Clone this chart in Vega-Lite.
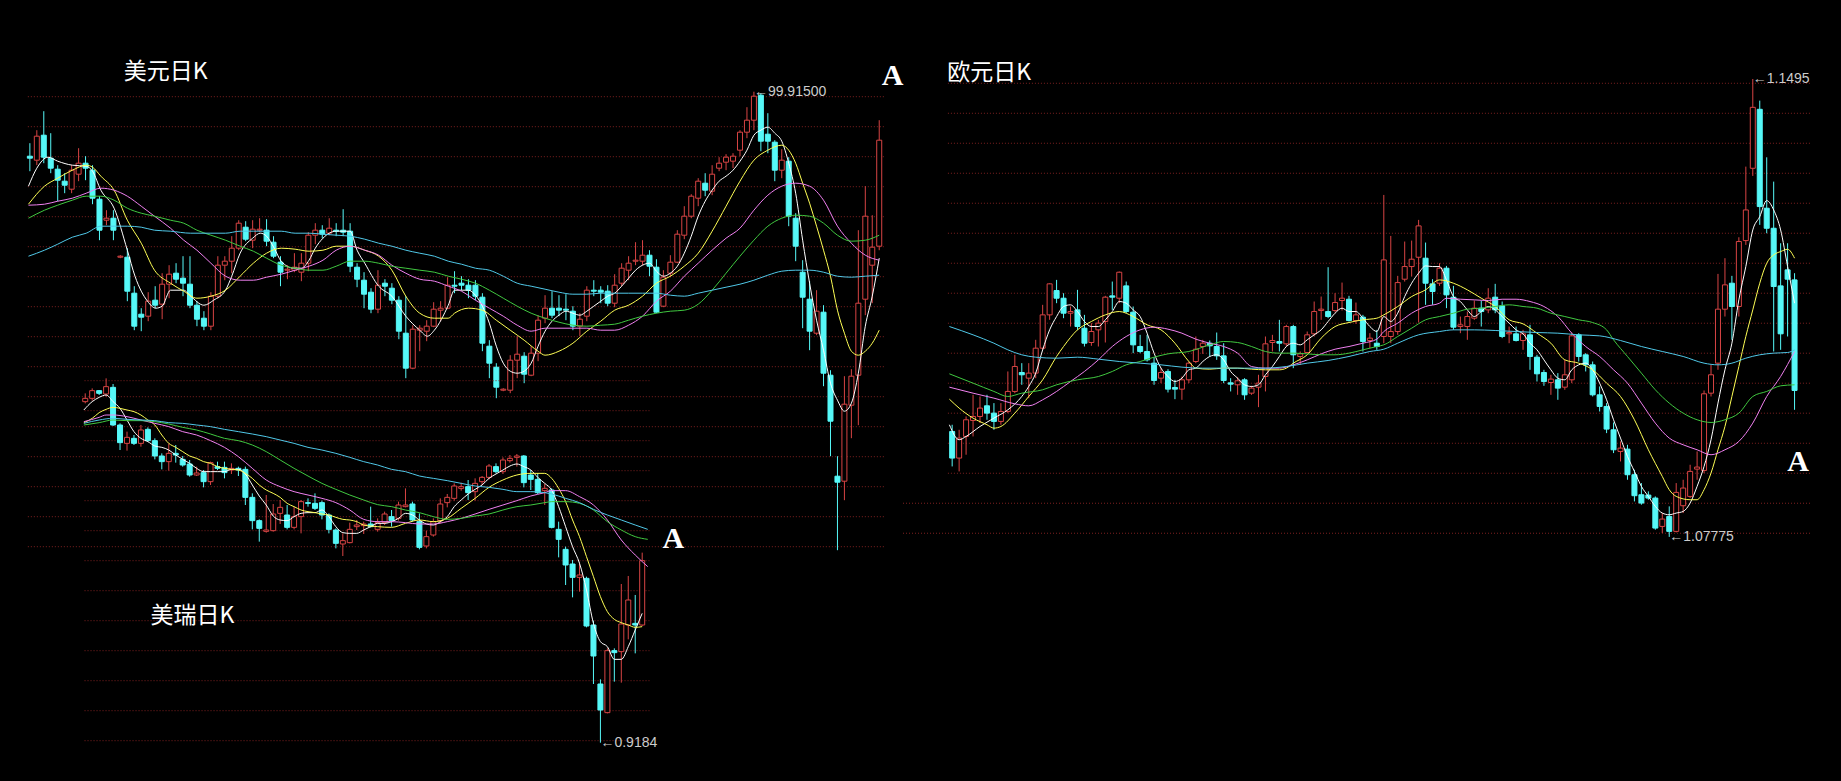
{
"$schema": "https://vega.github.io/schema/vega-lite/v6.json",
"width": 1841, "height": 781,
"autosize": {"type": "none"},
"padding": 0,
"background": "#000000",
"config": {"view": {"stroke": null}, "axis": {"disable": true}, "legend": {"disable": true}},
"datasets": {
"usdGrid": [{"p":99.865,"a":-0.29,"b":122.86},{"p":99.565,"a":-0.29,"b":122.86},{"p":99.265,"a":-0.29,"b":122.86},{"p":98.965,"a":-0.29,"b":122.86},{"p":98.665,"a":-0.29,"b":122.86},{"p":98.365,"a":-0.29,"b":122.86},{"p":98.065,"a":-0.29,"b":122.86},{"p":97.765,"a":-0.29,"b":122.86},{"p":97.465,"a":-0.29,"b":122.86},{"p":97.165,"a":-0.29,"b":122.86},{"p":96.865,"a":-0.29,"b":122.86},{"p":96.565,"a":-0.29,"b":122.86},{"p":96.265,"a":-0.29,"b":122.86},{"p":95.965,"a":-0.29,"b":122.86},{"p":95.665,"a":-0.29,"b":122.86},{"p":95.365,"a":-0.29,"b":122.86}],
"chfGrid": [{"p":0.9908,"a":-0.1,"b":81.04},{"p":0.9848,"a":-0.1,"b":81.04},{"p":0.9788,"a":-0.1,"b":81.04},{"p":0.9728,"a":-0.1,"b":81.04},{"p":0.9668,"a":-0.1,"b":81.04},{"p":0.9608,"a":-0.1,"b":81.04},{"p":0.9548,"a":-0.1,"b":81.04},{"p":0.9488,"a":-0.1,"b":81.04},{"p":0.9428,"a":-0.1,"b":81.04},{"p":0.9368,"a":-0.1,"b":81.04},{"p":0.9308,"a":-0.1,"b":81.04},{"p":0.9248,"a":-0.1,"b":81.04},{"p":0.9188,"a":-0.1,"b":81.04}],
"eurGrid": [{"p":1.14883,"a":-0.61,"b":123.39},{"p":1.14413,"a":-0.61,"b":123.39},{"p":1.13943,"a":-0.61,"b":123.39},{"p":1.13473,"a":-0.61,"b":123.39},{"p":1.13003,"a":-0.61,"b":123.39},{"p":1.12533,"a":-0.61,"b":123.39},{"p":1.12063,"a":-0.61,"b":123.39},{"p":1.11593,"a":-0.61,"b":123.39},{"p":1.11123,"a":-0.61,"b":123.39},{"p":1.10653,"a":-0.61,"b":123.39},{"p":1.10183,"a":-0.61,"b":123.39},{"p":1.09713,"a":-0.61,"b":123.39},{"p":1.09242,"a":-0.61,"b":123.39},{"p":1.08772,"a":-0.61,"b":123.39},{"p":1.08302,"a":-7.06,"b":123.39},{"p":1.07832,"a":-7.06,"b":123.39}],
"usd": [
{"i":0,"o":99.27,"h":99.40,"l":99.12,"c":99.25},{"i":1,"o":99.23,"h":99.53,"l":99.18,"c":99.47},{"i":2,"o":99.48,"h":99.72,"l":99.20,"c":99.26},{"i":3,"o":99.25,"h":99.50,"l":99.10,"c":99.15},{"i":4,"o":99.14,"h":99.18,"l":98.82,"c":99.03},{"i":5,"o":99.02,"h":99.10,"l":98.90,"c":98.98},{"i":6,"o":98.94,"h":99.18,"l":98.90,"c":99.13},{"i":7,"o":99.09,"h":99.35,"l":99.02,"c":99.20},{"i":8,"o":99.20,"h":99.27,"l":99.03,"c":99.15},{"i":9,"o":99.13,"h":99.18,"l":98.79,"c":98.85},
{"i":10,"o":98.84,"h":98.87,"l":98.43,"c":98.53},{"i":11,"o":98.63,"h":98.73,"l":98.58,"c":98.65},{"i":12,"o":98.65,"h":98.73,"l":98.43,"c":98.53},{"i":13,"o":98.26,"h":98.28,"l":98.25,"c":98.27},{"i":14,"o":98.26,"h":98.35,"l":97.82,"c":97.92},{"i":15,"o":97.90,"h":97.97,"l":97.53,"c":97.57},{"i":16,"o":97.69,"h":97.75,"l":97.52,"c":97.66},{"i":17,"o":97.67,"h":97.91,"l":97.62,"c":97.82},{"i":18,"o":97.83,"h":97.97,"l":97.75,"c":97.78},{"i":19,"o":97.79,"h":98.10,"l":97.64,"c":97.99},
{"i":20,"o":97.99,"h":98.18,"l":97.85,"c":98.09},{"i":21,"o":98.10,"h":98.20,"l":98.00,"c":98.04},{"i":22,"o":98.05,"h":98.27,"l":97.87,"c":98.00},{"i":23,"o":97.99,"h":98.27,"l":97.75,"c":97.78},{"i":24,"o":97.78,"h":97.82,"l":97.57,"c":97.64},{"i":25,"o":97.65,"h":97.72,"l":97.53,"c":97.57},{"i":26,"o":97.57,"h":97.91,"l":97.53,"c":97.87},{"i":27,"o":97.87,"h":98.27,"l":97.85,"c":98.18},{"i":28,"o":98.18,"h":98.27,"l":98.03,"c":98.22},{"i":29,"o":98.22,"h":98.47,"l":98.10,"c":98.35},
{"i":30,"o":98.35,"h":98.63,"l":98.33,"c":98.60},{"i":31,"o":98.56,"h":98.62,"l":98.42,"c":98.44},{"i":32,"o":98.43,"h":98.63,"l":98.35,"c":98.54},{"i":33,"o":98.53,"h":98.65,"l":98.51,"c":98.54},{"i":34,"o":98.53,"h":98.64,"l":98.37,"c":98.42},{"i":35,"o":98.41,"h":98.47,"l":98.25,"c":98.27},{"i":36,"o":98.21,"h":98.27,"l":97.97,"c":98.11},{"i":37,"o":98.13,"h":98.18,"l":98.04,"c":98.14},{"i":38,"o":98.13,"h":98.30,"l":98.11,"c":98.16},{"i":39,"o":98.11,"h":98.30,"l":98.02,"c":98.20},
{"i":40,"o":98.20,"h":98.51,"l":98.12,"c":98.48},{"i":41,"o":98.48,"h":98.60,"l":98.39,"c":98.53},{"i":42,"o":98.53,"h":98.58,"l":98.45,"c":98.49},{"i":43,"o":98.50,"h":98.65,"l":98.48,"c":98.55},{"i":44,"o":98.53,"h":98.60,"l":98.47,"c":98.52},{"i":45,"o":98.53,"h":98.74,"l":98.47,"c":98.51},{"i":46,"o":98.52,"h":98.60,"l":98.11,"c":98.17},{"i":47,"o":98.16,"h":98.20,"l":97.96,"c":98.04},{"i":48,"o":98.03,"h":98.11,"l":97.75,"c":97.89},{"i":49,"o":97.91,"h":97.95,"l":97.70,"c":97.74},
{"i":50,"o":97.74,"h":98.13,"l":97.70,"c":97.98},{"i":51,"o":98.00,"h":98.04,"l":97.87,"c":97.97},{"i":52,"o":97.95,"h":98.00,"l":97.79,"c":97.83},{"i":53,"o":97.83,"h":97.87,"l":97.44,"c":97.52},{"i":54,"o":97.50,"h":97.87,"l":97.05,"c":97.15},{"i":55,"o":97.15,"h":97.58,"l":97.14,"c":97.54},{"i":56,"o":97.53,"h":97.58,"l":97.32,"c":97.55},{"i":57,"o":97.52,"h":97.63,"l":97.42,"c":97.57},{"i":58,"o":97.57,"h":97.81,"l":97.56,"c":97.74},{"i":59,"o":97.73,"h":97.82,"l":97.62,"c":97.75},
{"i":60,"o":97.75,"h":98.06,"l":97.74,"c":97.98},{"i":61,"o":97.98,"h":98.12,"l":97.90,"c":97.97},{"i":62,"o":98.00,"h":98.07,"l":97.93,"c":97.98},{"i":63,"o":97.98,"h":98.04,"l":97.85,"c":97.93},{"i":64,"o":97.98,"h":98.03,"l":97.83,"c":97.87},{"i":65,"o":97.86,"h":97.90,"l":97.32,"c":97.40},{"i":66,"o":97.37,"h":97.43,"l":97.05,"c":97.20},{"i":67,"o":97.16,"h":97.20,"l":96.85,"c":96.96},{"i":68,"o":96.93,"h":96.95,"l":96.92,"c":96.94},{"i":69,"o":96.93,"h":97.28,"l":96.90,"c":97.23},
{"i":70,"o":97.23,"h":97.47,"l":97.05,"c":97.29},{"i":71,"o":97.27,"h":97.31,"l":97.00,"c":97.09},{"i":72,"o":97.08,"h":97.37,"l":97.07,"c":97.30},{"i":73,"o":97.30,"h":97.68,"l":97.22,"c":97.63},{"i":74,"o":97.65,"h":97.88,"l":97.60,"c":97.75},{"i":75,"o":97.75,"h":97.92,"l":97.65,"c":97.68},{"i":76,"o":97.75,"h":97.88,"l":97.67,"c":97.73},{"i":77,"o":97.74,"h":97.89,"l":97.63,"c":97.73},{"i":78,"o":97.72,"h":97.77,"l":97.53,"c":97.57},{"i":79,"o":97.57,"h":97.70,"l":97.47,"c":97.64},
{"i":80,"o":97.67,"h":97.97,"l":97.62,"c":97.93},{"i":81,"o":97.93,"h":98.03,"l":97.87,"c":97.92},{"i":82,"o":97.93,"h":97.97,"l":97.80,"c":97.91},{"i":83,"o":97.92,"h":97.98,"l":97.77,"c":97.80},{"i":84,"o":97.80,"h":98.09,"l":97.76,"c":97.98},{"i":85,"o":98.00,"h":98.20,"l":97.97,"c":98.15},{"i":86,"o":98.13,"h":98.27,"l":98.03,"c":98.20},{"i":87,"o":98.22,"h":98.41,"l":98.18,"c":98.23},{"i":88,"o":98.22,"h":98.43,"l":98.18,"c":98.28},{"i":89,"o":98.28,"h":98.33,"l":98.07,"c":98.17},
{"i":90,"o":98.16,"h":98.24,"l":97.70,"c":97.71},{"i":91,"o":97.77,"h":98.13,"l":97.76,"c":98.06},{"i":92,"o":98.10,"h":98.28,"l":98.06,"c":98.21},{"i":93,"o":98.21,"h":98.53,"l":98.20,"c":98.49},{"i":94,"o":98.48,"h":98.77,"l":98.44,"c":98.67},{"i":95,"o":98.67,"h":98.89,"l":98.65,"c":98.87},{"i":96,"o":98.85,"h":99.05,"l":98.77,"c":99.02},{"i":97,"o":99.00,"h":99.10,"l":98.87,"c":98.93},{"i":98,"o":98.92,"h":99.18,"l":98.88,"c":99.09},{"i":99,"o":99.15,"h":99.26,"l":99.12,"c":99.20},
{"i":100,"o":99.21,"h":99.29,"l":99.13,"c":99.26},{"i":101,"o":99.22,"h":99.30,"l":99.15,"c":99.27},{"i":102,"o":99.33,"h":99.53,"l":99.27,"c":99.51},{"i":103,"o":99.51,"h":99.76,"l":99.45,"c":99.63},{"i":104,"o":99.63,"h":99.915,"l":99.53,"c":99.87},{"i":105,"o":99.88,"h":99.90,"l":99.32,"c":99.42},{"i":106,"o":99.49,"h":99.70,"l":99.30,"c":99.42},{"i":107,"o":99.41,"h":99.43,"l":99.02,"c":99.13},{"i":108,"o":99.13,"h":99.34,"l":99.05,"c":99.23},{"i":109,"o":99.22,"h":99.26,"l":98.57,"c":98.67},
{"i":110,"o":98.65,"h":98.70,"l":98.22,"c":98.37},{"i":111,"o":98.11,"h":98.23,"l":97.55,"c":97.86},{"i":112,"o":97.84,"h":98.02,"l":97.33,"c":97.52},{"i":113,"o":97.50,"h":97.93,"l":97.48,"c":97.72},{"i":114,"o":97.71,"h":97.78,"l":96.97,"c":97.10},{"i":115,"o":97.08,"h":97.13,"l":96.27,"c":96.62},{"i":116,"o":96.07,"h":96.27,"l":95.33,"c":96.01},{"i":117,"o":96.02,"h":97.07,"l":95.83,"c":96.79},{"i":118,"o":96.78,"h":97.14,"l":96.45,"c":97.07},{"i":119,"o":97.08,"h":98.53,"l":96.58,"c":97.80},
{"i":120,"o":97.84,"h":98.97,"l":97.68,"c":98.67},{"i":121,"o":98.18,"h":98.68,"l":97.80,"c":98.36},{"i":122,"o":98.37,"h":99.63,"l":98.33,"c":99.43}
],
"usdMA": [
{"m":"w","i":-0.2,"v":98.97},{"m":"w","i":1,"v":99.15},{"m":"w","i":2.6,"v":99.26},{"m":"w","i":4,"v":99.22},{"m":"w","i":6.1,"v":99.18},{"m":"w","i":8.1,"v":99.17},{"m":"w","i":9,"v":99.12},{"m":"w","i":10.2,"v":98.93},{"m":"w","i":12.1,"v":98.75},{"m":"w","i":14,"v":98.33},{"m":"w","i":15.1,"v":98.07},{"m":"w","i":16.9,"v":97.82},{"m":"w","i":18.1,"v":97.75},{"m":"w","i":19,"v":97.77},{"m":"w","i":20.2,"v":97.93},{"m":"w","i":22.1,"v":97.93},{"m":"w","i":23.1,"v":97.87},{"m":"w","i":25,"v":97.78},{"m":"w","i":26.4,"v":97.83},{"m":"w","i":28.1,"v":97.93},{"m":"w","i":29,"v":98.07},{"m":"w","i":30.2,"v":98.30},{"m":"w","i":32,"v":98.45},{"m":"w","i":33.1,"v":98.50},{"m":"w","i":34,"v":98.47},{"m":"w","i":35.1,"v":98.35},{"m":"w","i":36.1,"v":98.22},{"m":"w","i":37.9,"v":98.15},{"m":"w","i":39,"v":98.15},{"m":"w","i":40.1,"v":98.23},{"m":"w","i":41,"v":98.35},{"m":"w","i":42.1,"v":98.45},{"m":"w","i":44,"v":98.52},{"m":"w","i":46,"v":98.52},{"m":"w","i":47,"v":98.33},{"m":"w","i":48.1,"v":98.20},{"m":"w","i":50.1,"v":97.97},{"m":"w","i":52,"v":97.87},{"m":"w","i":54,"v":97.67},{"m":"w","i":56,"v":97.53},{"m":"w","i":57.1,"v":97.47},{"m":"w","i":58.1,"v":97.53},{"m":"w","i":60.1,"v":97.78},{"m":"w","i":61,"v":97.93},{"m":"w","i":63,"v":97.93},{"m":"w","i":64,"v":97.88},{"m":"w","i":65,"v":97.77},{"m":"w","i":66,"v":97.60},{"m":"w","i":67,"v":97.37},{"m":"w","i":68,"v":97.20},{"m":"w","i":69,"v":97.12},{"m":"w","i":70,"v":97.10},{"m":"w","i":71,"v":97.12},{"m":"w","i":72,"v":97.20},{"m":"w","i":73,"v":97.37},{"m":"w","i":74,"v":97.52},{"m":"w","i":75,"v":97.62},{"m":"w","i":76,"v":97.68},{"m":"w","i":77,"v":97.72},{"m":"w","i":78,"v":97.70},{"m":"w","i":79,"v":97.68},{"m":"w","i":80,"v":97.72},{"m":"w","i":81,"v":97.77},{"m":"w","i":82,"v":97.82},{"m":"w","i":83,"v":97.87},{"m":"w","i":84,"v":97.90},{"m":"w","i":85,"v":97.97},{"m":"w","i":86,"v":98.05},{"m":"w","i":87,"v":98.13},{"m":"w","i":88,"v":98.18},{"m":"w","i":89,"v":98.20},{"m":"w","i":90,"v":98.12},{"m":"w","i":91,"v":98.07},{"m":"w","i":92,"v":98.10},{"m":"w","i":93,"v":98.17},{"m":"w","i":94,"v":98.30},{"m":"w","i":95,"v":98.47},{"m":"w","i":96,"v":98.67},{"m":"w","i":97,"v":98.82},{"m":"w","i":98,"v":98.93},{"m":"w","i":99,"v":99.02},{"m":"w","i":100,"v":99.07},{"m":"w","i":101,"v":99.13},{"m":"w","i":102,"v":99.22},{"m":"w","i":103,"v":99.33},{"m":"w","i":104,"v":99.48},{"m":"w","i":105,"v":99.53},{"m":"w","i":106,"v":99.56},{"m":"w","i":107,"v":99.50},{"m":"w","i":108,"v":99.42},{"m":"w","i":109,"v":99.20},{"m":"w","i":110,"v":98.90},{"m":"w","i":111,"v":98.43},{"m":"w","i":112,"v":98.00},{"m":"w","i":113,"v":97.63},{"m":"w","i":114,"v":97.33},{"m":"w","i":115,"v":97.00},{"m":"w","i":116,"v":96.83},{"m":"w","i":117,"v":96.72},{"m":"w","i":118,"v":96.80},{"m":"w","i":119,"v":97.10},{"m":"w","i":120,"v":97.57},{"m":"w","i":121,"v":97.87},{"m":"w","i":122,"v":98.25},
{"m":"y","i":-0.2,"v":98.79},{"m":"y","i":2.1,"v":98.97},{"m":"y","i":4,"v":99.05},{"m":"y","i":6.1,"v":99.13},{"m":"y","i":8.1,"v":99.18},{"m":"y","i":9,"v":99.16},{"m":"y","i":10.2,"v":99.07},{"m":"y","i":12.1,"v":98.93},{"m":"y","i":14,"v":98.63},{"m":"y","i":16,"v":98.40},{"m":"y","i":17.9,"v":98.13},{"m":"y","i":20.2,"v":98.00},{"m":"y","i":22.1,"v":97.92},{"m":"y","i":24,"v":97.85},{"m":"y","i":26,"v":97.87},{"m":"y","i":28.1,"v":97.93},{"m":"y","i":30.2,"v":98.07},{"m":"y","i":32.1,"v":98.20},{"m":"y","i":34,"v":98.30},{"m":"y","i":36.1,"v":98.35},{"m":"y","i":38.1,"v":98.34},{"m":"y","i":40.1,"v":98.32},{"m":"y","i":42.1,"v":98.33},{"m":"y","i":44,"v":98.37},{"m":"y","i":46,"v":98.37},{"m":"y","i":48.1,"v":98.33},{"m":"y","i":50.1,"v":98.27},{"m":"y","i":52,"v":98.13},{"m":"y","i":54,"v":97.87},{"m":"y","i":56,"v":97.70},{"m":"y","i":58.1,"v":97.65},{"m":"y","i":60.1,"v":97.65},{"m":"y","i":61,"v":97.70},{"m":"y","i":63,"v":97.75},{"m":"y","i":65,"v":97.73},{"m":"y","i":67,"v":97.63},{"m":"y","i":69,"v":97.53},{"m":"y","i":71,"v":97.43},{"m":"y","i":73,"v":97.32},{"m":"y","i":74,"v":97.28},{"m":"y","i":76,"v":97.32},{"m":"y","i":78,"v":97.40},{"m":"y","i":80,"v":97.52},{"m":"y","i":82,"v":97.62},{"m":"y","i":84,"v":97.73},{"m":"y","i":86,"v":97.78},{"m":"y","i":88,"v":97.87},{"m":"y","i":90,"v":98.00},{"m":"y","i":92,"v":98.07},{"m":"y","i":94,"v":98.17},{"m":"y","i":96,"v":98.30},{"m":"y","i":98,"v":98.52},{"m":"y","i":100,"v":98.77},{"m":"y","i":102,"v":99.02},{"m":"y","i":104,"v":99.23},{"m":"y","i":106,"v":99.33},{"m":"y","i":108,"v":99.38},{"m":"y","i":109,"v":99.33},{"m":"y","i":110,"v":99.20},{"m":"y","i":111,"v":99.00},{"m":"y","i":112,"v":98.80},{"m":"y","i":113,"v":98.57},{"m":"y","i":114,"v":98.33},{"m":"y","i":115,"v":98.07},{"m":"y","i":116,"v":97.73},{"m":"y","i":117,"v":97.50},{"m":"y","i":118,"v":97.32},{"m":"y","i":119,"v":97.28},{"m":"y","i":120,"v":97.32},{"m":"y","i":121,"v":97.40},{"m":"y","i":122,"v":97.53},
{"m":"p","i":-0.2,"v":98.78},{"m":"p","i":2.1,"v":98.79},{"m":"p","i":4,"v":98.82},{"m":"p","i":6.1,"v":98.85},{"m":"p","i":8.1,"v":98.90},{"m":"p","i":10.2,"v":98.95},{"m":"p","i":12.1,"v":98.93},{"m":"p","i":14,"v":98.87},{"m":"p","i":16,"v":98.77},{"m":"p","i":17.9,"v":98.67},{"m":"p","i":20.2,"v":98.55},{"m":"p","i":22.1,"v":98.43},{"m":"p","i":24,"v":98.33},{"m":"p","i":26,"v":98.20},{"m":"p","i":28.1,"v":98.07},{"m":"p","i":30.2,"v":98.03},{"m":"p","i":32.1,"v":98.03},{"m":"p","i":34,"v":98.06},{"m":"p","i":36.1,"v":98.09},{"m":"p","i":38.1,"v":98.13},{"m":"p","i":40.1,"v":98.17},{"m":"p","i":42.1,"v":98.23},{"m":"p","i":44,"v":98.33},{"m":"p","i":46,"v":98.37},{"m":"p","i":48.1,"v":98.33},{"m":"p","i":50.1,"v":98.28},{"m":"p","i":52,"v":98.18},{"m":"p","i":54,"v":98.10},{"m":"p","i":56,"v":98.04},{"m":"p","i":58.1,"v":98.02},{"m":"p","i":60.1,"v":97.97},{"m":"p","i":62,"v":97.92},{"m":"p","i":64,"v":97.83},{"m":"p","i":66,"v":97.75},{"m":"p","i":68,"v":97.67},{"m":"p","i":70,"v":97.58},{"m":"p","i":72,"v":97.52},{"m":"p","i":74,"v":97.55},{"m":"p","i":76,"v":97.55},{"m":"p","i":78,"v":97.55},{"m":"p","i":80,"v":97.55},{"m":"p","i":82,"v":97.53},{"m":"p","i":84,"v":97.53},{"m":"p","i":86,"v":97.58},{"m":"p","i":88,"v":97.67},{"m":"p","i":90,"v":97.82},{"m":"p","i":92,"v":97.92},{"m":"p","i":94,"v":98.07},{"m":"p","i":96,"v":98.20},{"m":"p","i":98,"v":98.33},{"m":"p","i":100,"v":98.45},{"m":"p","i":102,"v":98.55},{"m":"p","i":104,"v":98.73},{"m":"p","i":106,"v":98.88},{"m":"p","i":108,"v":98.97},{"m":"p","i":110,"v":99.00},{"m":"p","i":112,"v":98.97},{"m":"p","i":114,"v":98.83},{"m":"p","i":116,"v":98.57},{"m":"p","i":118,"v":98.40},{"m":"p","i":120,"v":98.28},{"m":"p","i":122,"v":98.23},
{"m":"g","i":-0.2,"v":98.65},{"m":"g","i":2.1,"v":98.73},{"m":"g","i":4,"v":98.78},{"m":"g","i":6.1,"v":98.83},{"m":"g","i":8.1,"v":98.87},{"m":"g","i":10.2,"v":98.87},{"m":"g","i":12.1,"v":98.83},{"m":"g","i":14,"v":98.75},{"m":"g","i":16,"v":98.70},{"m":"g","i":17.9,"v":98.67},{"m":"g","i":20.2,"v":98.63},{"m":"g","i":22.1,"v":98.60},{"m":"g","i":24,"v":98.53},{"m":"g","i":26,"v":98.48},{"m":"g","i":28.1,"v":98.43},{"m":"g","i":30.2,"v":98.37},{"m":"g","i":32.1,"v":98.32},{"m":"g","i":34,"v":98.25},{"m":"g","i":36.1,"v":98.18},{"m":"g","i":38.1,"v":98.15},{"m":"g","i":40.1,"v":98.13},{"m":"g","i":42.1,"v":98.13},{"m":"g","i":44,"v":98.17},{"m":"g","i":46,"v":98.22},{"m":"g","i":48.1,"v":98.22},{"m":"g","i":50.1,"v":98.20},{"m":"g","i":52,"v":98.17},{"m":"g","i":54,"v":98.15},{"m":"g","i":56,"v":98.13},{"m":"g","i":58.1,"v":98.11},{"m":"g","i":60.1,"v":98.07},{"m":"g","i":62,"v":98.04},{"m":"g","i":64,"v":98.00},{"m":"g","i":66,"v":97.93},{"m":"g","i":68,"v":97.85},{"m":"g","i":70,"v":97.77},{"m":"g","i":72,"v":97.70},{"m":"g","i":74,"v":97.65},{"m":"g","i":76,"v":97.61},{"m":"g","i":78,"v":97.58},{"m":"g","i":80,"v":97.57},{"m":"g","i":82,"v":97.58},{"m":"g","i":84,"v":97.59},{"m":"g","i":86,"v":97.63},{"m":"g","i":88,"v":97.67},{"m":"g","i":90,"v":97.70},{"m":"g","i":92,"v":97.72},{"m":"g","i":94,"v":97.73},{"m":"g","i":96,"v":97.79},{"m":"g","i":98,"v":97.93},{"m":"g","i":100,"v":98.10},{"m":"g","i":102,"v":98.27},{"m":"g","i":104,"v":98.43},{"m":"g","i":106,"v":98.57},{"m":"g","i":108,"v":98.65},{"m":"g","i":110,"v":98.68},{"m":"g","i":112,"v":98.67},{"m":"g","i":114,"v":98.60},{"m":"g","i":116,"v":98.48},{"m":"g","i":118,"v":98.42},{"m":"g","i":120,"v":98.43},{"m":"g","i":122,"v":98.48},
{"m":"c","i":-0.2,"v":98.27},{"m":"c","i":2.1,"v":98.33},{"m":"c","i":4,"v":98.39},{"m":"c","i":6.1,"v":98.46},{"m":"c","i":8.1,"v":98.50},{"m":"c","i":10.2,"v":98.57},{"m":"c","i":12.1,"v":98.57},{"m":"c","i":14,"v":98.57},{"m":"c","i":16,"v":98.56},{"m":"c","i":17.9,"v":98.53},{"m":"c","i":20.2,"v":98.52},{"m":"c","i":23.1,"v":98.50},{"m":"c","i":26,"v":98.50},{"m":"c","i":28.1,"v":98.50},{"m":"c","i":30.2,"v":98.52},{"m":"c","i":32.1,"v":98.52},{"m":"c","i":34,"v":98.52},{"m":"c","i":36.1,"v":98.52},{"m":"c","i":38.1,"v":98.50},{"m":"c","i":40.1,"v":98.50},{"m":"c","i":42.1,"v":98.49},{"m":"c","i":44,"v":98.48},{"m":"c","i":46,"v":98.47},{"m":"c","i":48.1,"v":98.44},{"m":"c","i":50.1,"v":98.40},{"m":"c","i":52,"v":98.37},{"m":"c","i":54,"v":98.33},{"m":"c","i":56,"v":98.30},{"m":"c","i":58.1,"v":98.27},{"m":"c","i":60.1,"v":98.22},{"m":"c","i":62,"v":98.19},{"m":"c","i":64,"v":98.15},{"m":"c","i":66,"v":98.13},{"m":"c","i":68,"v":98.07},{"m":"c","i":70,"v":98.00},{"m":"c","i":72,"v":97.97},{"m":"c","i":74,"v":97.94},{"m":"c","i":76,"v":97.91},{"m":"c","i":78,"v":97.89},{"m":"c","i":80,"v":97.89},{"m":"c","i":82,"v":97.90},{"m":"c","i":84,"v":97.90},{"m":"c","i":86,"v":97.90},{"m":"c","i":88,"v":97.90},{"m":"c","i":90,"v":97.90},{"m":"c","i":92,"v":97.88},{"m":"c","i":94,"v":97.87},{"m":"c","i":96,"v":97.90},{"m":"c","i":98,"v":97.93},{"m":"c","i":100,"v":97.96},{"m":"c","i":102,"v":97.99},{"m":"c","i":104,"v":98.03},{"m":"c","i":106,"v":98.08},{"m":"c","i":108,"v":98.12},{"m":"c","i":110,"v":98.13},{"m":"c","i":112,"v":98.13},{"m":"c","i":114,"v":98.11},{"m":"c","i":116,"v":98.07},{"m":"c","i":118,"v":98.06},{"m":"c","i":120,"v":98.07},{"m":"c","i":122,"v":98.08}
],
"chf": [
{"i":0,"o":0.98661,"h":0.98827,"l":0.98627,"c":0.98727},{"i":1,"o":0.98727,"h":0.98927,"l":0.98681,"c":0.98881},{"i":2,"o":0.98881,"h":0.98894,"l":0.98794,"c":0.98827},{"i":3,"o":0.98814,"h":0.99127,"l":0.98761,"c":0.98961},{"i":4,"o":0.98947,"h":0.99014,"l":0.98174,"c":0.98194},{"i":5,"o":0.98194,"h":0.98227,"l":0.97694,"c":0.97841},{"i":6,"o":0.97827,"h":0.98061,"l":0.97681,"c":0.97947},{"i":7,"o":0.97927,"h":0.97994,"l":0.97794,"c":0.97827},{"i":8,"o":0.97827,"h":0.98194,"l":0.97761,"c":0.98094},{"i":9,"o":0.98107,"h":0.98147,"l":0.97861,"c":0.97881},
{"i":10,"o":0.97881,"h":0.97927,"l":0.97507,"c":0.97574},{"i":11,"o":0.97574,"h":0.97627,"l":0.97307,"c":0.97461},{"i":12,"o":0.97461,"h":0.97827,"l":0.97281,"c":0.97627},{"i":13,"o":0.97627,"h":0.97794,"l":0.97441,"c":0.97594},{"i":14,"o":0.97507,"h":0.97574,"l":0.97361,"c":0.97394},{"i":15,"o":0.97414,"h":0.97494,"l":0.97161,"c":0.97194},{"i":16,"o":0.97194,"h":0.97361,"l":0.97174,"c":0.97234},{"i":17,"o":0.97241,"h":0.97294,"l":0.96947,"c":0.97061},{"i":18,"o":0.97061,"h":0.97461,"l":0.96994,"c":0.97441},{"i":19,"o":0.97361,"h":0.97461,"l":0.97294,"c":0.97327},
{"i":20,"o":0.97347,"h":0.97461,"l":0.97127,"c":0.97241},{"i":21,"o":0.97294,"h":0.97427,"l":0.97214,"c":0.97327},{"i":22,"o":0.97327,"h":0.97361,"l":0.97174,"c":0.97294},{"i":23,"o":0.97307,"h":0.97361,"l":0.96594,"c":0.96747},{"i":24,"o":0.96747,"h":0.96827,"l":0.96107,"c":0.96281},{"i":25,"o":0.96281,"h":0.96307,"l":0.95861,"c":0.96127},{"i":26,"o":0.96067,"h":0.96794,"l":0.96041,"c":0.96094},{"i":27,"o":0.96081,"h":0.96614,"l":0.96061,"c":0.96414},{"i":28,"o":0.96427,"h":0.96694,"l":0.96214,"c":0.96547},{"i":29,"o":0.96394,"h":0.96594,"l":0.96107,"c":0.96147},
{"i":30,"o":0.96147,"h":0.96561,"l":0.96107,"c":0.96361},{"i":31,"o":0.96361,"h":0.96694,"l":0.96027,"c":0.96661},{"i":32,"o":0.96641,"h":0.96727,"l":0.96561,"c":0.96627},{"i":33,"o":0.96627,"h":0.96827,"l":0.96494,"c":0.96527},{"i":34,"o":0.96641,"h":0.96681,"l":0.96307,"c":0.96394},{"i":35,"o":0.96394,"h":0.96427,"l":0.96027,"c":0.96107},{"i":36,"o":0.96094,"h":0.96127,"l":0.95727,"c":0.95827},{"i":37,"o":0.95814,"h":0.96027,"l":0.95574,"c":0.95881},{"i":38,"o":0.95841,"h":0.96241,"l":0.95827,"c":0.96107},{"i":39,"o":0.96161,"h":0.96294,"l":0.96094,"c":0.96194},
{"i":40,"o":0.96181,"h":0.96261,"l":0.96014,"c":0.96214},{"i":41,"o":0.96214,"h":0.96561,"l":0.96147,"c":0.96161},{"i":42,"o":0.96107,"h":0.96327,"l":0.96061,"c":0.96241},{"i":43,"o":0.96241,"h":0.96461,"l":0.96194,"c":0.96414},{"i":44,"o":0.96361,"h":0.96494,"l":0.96161,"c":0.96281},{"i":45,"o":0.96327,"h":0.96661,"l":0.96281,"c":0.96594},{"i":46,"o":0.96561,"h":0.96927,"l":0.96547,"c":0.96594},{"i":47,"o":0.96614,"h":0.96661,"l":0.96261,"c":0.96294},{"i":48,"o":0.96261,"h":0.96427,"l":0.95707,"c":0.95747},{"i":49,"o":0.95774,"h":0.96081,"l":0.95727,"c":0.95961},
{"i":50,"o":0.95994,"h":0.96327,"l":0.95961,"c":0.96261},{"i":51,"o":0.96281,"h":0.96727,"l":0.96227,"c":0.96614},{"i":52,"o":0.96641,"h":0.96814,"l":0.96547,"c":0.96747},{"i":53,"o":0.96727,"h":0.97027,"l":0.96681,"c":0.96974},{"i":54,"o":0.96927,"h":0.97041,"l":0.96881,"c":0.96961},{"i":55,"o":0.96961,"h":0.97094,"l":0.96694,"c":0.96841},{"i":56,"o":0.96861,"h":0.97127,"l":0.96681,"c":0.97027},{"i":57,"o":0.97061,"h":0.97174,"l":0.96994,"c":0.97147},{"i":58,"o":0.97147,"h":0.97414,"l":0.97107,"c":0.97374},{"i":59,"o":0.97361,"h":0.97427,"l":0.97227,"c":0.97261},
{"i":60,"o":0.97261,"h":0.97547,"l":0.97214,"c":0.97494},{"i":61,"o":0.97481,"h":0.97594,"l":0.97441,"c":0.97527},{"i":62,"o":0.97547,"h":0.97614,"l":0.97361,"c":0.97574},{"i":63,"o":0.97574,"h":0.97594,"l":0.96947,"c":0.97041},{"i":64,"o":0.97194,"h":0.97294,"l":0.96894,"c":0.97107},{"i":65,"o":0.97107,"h":0.97227,"l":0.96814,"c":0.96841},{"i":66,"o":0.96881,"h":0.97014,"l":0.96594,"c":0.96927},{"i":67,"o":0.96894,"h":0.96927,"l":0.96127,"c":0.96147},{"i":68,"o":0.96107,"h":0.96261,"l":0.95547,"c":0.95907},{"i":69,"o":0.95707,"h":0.95761,"l":0.94994,"c":0.95394},
{"i":70,"o":0.95414,"h":0.95494,"l":0.94747,"c":0.95147},{"i":71,"o":0.95147,"h":0.95441,"l":0.94861,"c":0.95194},{"i":72,"o":0.95127,"h":0.95161,"l":0.94147,"c":0.94174},{"i":73,"o":0.94194,"h":0.94281,"l":0.93014,"c":0.93574},{"i":74,"o":0.93014,"h":0.93107,"l":0.9184,"c":0.92494},{"i":75,"o":0.92441,"h":0.93727,"l":0.92427,"c":0.93681},{"i":76,"o":0.93681,"h":0.93727,"l":0.93061,"c":0.93641},{"i":77,"o":0.93661,"h":0.95014,"l":0.93041,"c":0.94214},{"i":78,"o":0.94194,"h":0.95174,"l":0.93907,"c":0.94694},{"i":79,"o":0.94227,"h":0.94794,"l":0.93627,"c":0.94194},
{"i":80,"o":0.94194,"h":0.95641,"l":0.94174,"c":0.95481}
],
"chfMA": [
{"m":"w","i":-0.2,"v":0.98494},{"m":"w","i":1,"v":0.98661},{"m":"w","i":2,"v":0.98747},{"m":"w","i":3,"v":0.98794},{"m":"w","i":4,"v":0.98661},{"m":"w","i":5,"v":0.98527},{"m":"w","i":6,"v":0.98294},{"m":"w","i":7,"v":0.98061},{"m":"w","i":8,"v":0.97927},{"m":"w","i":9,"v":0.97861},{"m":"w","i":10,"v":0.97774},{"m":"w","i":11,"v":0.97747},{"m":"w","i":12,"v":0.97694},{"m":"w","i":13,"v":0.97594},{"m":"w","i":14,"v":0.97507},{"m":"w","i":15,"v":0.97427},{"m":"w","i":16,"v":0.97327},{"m":"w","i":17,"v":0.97261},{"m":"w","i":18,"v":0.97261},{"m":"w","i":19,"v":0.97261},{"m":"w","i":20,"v":0.97261},{"m":"w","i":21,"v":0.97307},{"m":"w","i":22,"v":0.97307},{"m":"w","i":23,"v":0.97214},{"m":"w","i":24,"v":0.96994},{"m":"w","i":25,"v":0.96774},{"m":"w","i":26,"v":0.96594},{"m":"w","i":27,"v":0.96374},{"m":"w","i":28,"v":0.96294},{"m":"w","i":29,"v":0.96281},{"m":"w","i":30,"v":0.96361},{"m":"w","i":31,"v":0.96427},{"m":"w","i":32,"v":0.96441},{"m":"w","i":33,"v":0.96441},{"m":"w","i":34,"v":0.96494},{"m":"w","i":35,"v":0.96361},{"m":"w","i":36,"v":0.96161},{"m":"w","i":37,"v":0.96041},{"m":"w","i":38,"v":0.96027},{"m":"w","i":39,"v":0.96027},{"m":"w","i":40,"v":0.96094},{"m":"w","i":41,"v":0.96161},{"m":"w","i":42,"v":0.96227},{"m":"w","i":43,"v":0.96227},{"m":"w","i":44,"v":0.96261},{"m":"w","i":45,"v":0.96327},{"m":"w","i":46,"v":0.96427},{"m":"w","i":47,"v":0.96394},{"m":"w","i":48,"v":0.96294},{"m":"w","i":49,"v":0.96214},{"m":"w","i":50,"v":0.96194},{"m":"w","i":51,"v":0.96261},{"m":"w","i":52,"v":0.96361},{"m":"w","i":53,"v":0.96561},{"m":"w","i":54,"v":0.96694},{"m":"w","i":55,"v":0.96814},{"m":"w","i":56,"v":0.96907},{"m":"w","i":57,"v":0.96994},{"m":"w","i":58,"v":0.97127},{"m":"w","i":59,"v":0.97214},{"m":"w","i":60,"v":0.97294},{"m":"w","i":61,"v":0.97374},{"m":"w","i":62,"v":0.97414},{"m":"w","i":63,"v":0.97361},{"m":"w","i":64,"v":0.97294},{"m":"w","i":65,"v":0.97147},{"m":"w","i":66,"v":0.97027},{"m":"w","i":67,"v":0.96894},{"m":"w","i":68,"v":0.96561},{"m":"w","i":69,"v":0.96161},{"m":"w","i":70,"v":0.95761},{"m":"w","i":71,"v":0.95427},{"m":"w","i":72,"v":0.94894},{"m":"w","i":73,"v":0.94227},{"m":"w","i":74,"v":0.93861},{"m":"w","i":75,"v":0.93761},{"m":"w","i":76,"v":0.93507},{"m":"w","i":77,"v":0.93507},{"m":"w","i":78,"v":0.93761},{"m":"w","i":79,"v":0.94094},{"m":"w","i":80,"v":0.94427},
{"m":"y","i":-0.2,"v":0.98241},{"m":"y","i":1,"v":0.98327},{"m":"y","i":2,"v":0.98441},{"m":"y","i":3,"v":0.98507},{"m":"y","i":4,"v":0.98547},{"m":"y","i":5,"v":0.98527},{"m":"y","i":6,"v":0.98494},{"m":"y","i":7,"v":0.98461},{"m":"y","i":8,"v":0.98394},{"m":"y","i":9,"v":0.98294},{"m":"y","i":10,"v":0.98194},{"m":"y","i":11,"v":0.97994},{"m":"y","i":12,"v":0.97827},{"m":"y","i":13,"v":0.97747},{"m":"y","i":14,"v":0.97661},{"m":"y","i":15,"v":0.97574},{"m":"y","i":16,"v":0.97527},{"m":"y","i":17,"v":0.97461},{"m":"y","i":18,"v":0.97427},{"m":"y","i":19,"v":0.97361},{"m":"y","i":20,"v":0.97327},{"m":"y","i":21,"v":0.97307},{"m":"y","i":22,"v":0.97294},{"m":"y","i":23,"v":0.97227},{"m":"y","i":24,"v":0.97127},{"m":"y","i":25,"v":0.96994},{"m":"y","i":26,"v":0.96894},{"m":"y","i":27,"v":0.96827},{"m":"y","i":28,"v":0.96747},{"m":"y","i":29,"v":0.96627},{"m":"y","i":30,"v":0.96561},{"m":"y","i":31,"v":0.96494},{"m":"y","i":32,"v":0.96461},{"m":"y","i":33,"v":0.96441},{"m":"y","i":34,"v":0.96414},{"m":"y","i":35,"v":0.96394},{"m":"y","i":36,"v":0.96347},{"m":"y","i":37,"v":0.96307},{"m":"y","i":38,"v":0.96294},{"m":"y","i":39,"v":0.96261},{"m":"y","i":40,"v":0.96194},{"m":"y","i":42,"v":0.96161},{"m":"y","i":44,"v":0.96147},{"m":"y","i":46,"v":0.96227},{"m":"y","i":48,"v":0.96294},{"m":"y","i":50,"v":0.96261},{"m":"y","i":52,"v":0.96327},{"m":"y","i":54,"v":0.96527},{"m":"y","i":56,"v":0.96727},{"m":"y","i":58,"v":0.96947},{"m":"y","i":60,"v":0.97094},{"m":"y","i":62,"v":0.97194},{"m":"y","i":64,"v":0.97227},{"m":"y","i":66,"v":0.97227},{"m":"y","i":67,"v":0.97127},{"m":"y","i":68,"v":0.96927},{"m":"y","i":69,"v":0.96661},{"m":"y","i":70,"v":0.96294},{"m":"y","i":71,"v":0.95961},{"m":"y","i":72,"v":0.95561},{"m":"y","i":73,"v":0.95161},{"m":"y","i":74,"v":0.94761},{"m":"y","i":75,"v":0.94461},{"m":"y","i":76,"v":0.94307},{"m":"y","i":77,"v":0.94241},{"m":"y","i":78,"v":0.94194},{"m":"y","i":79,"v":0.94147},{"m":"y","i":80,"v":0.94161},
{"m":"p","i":-0.2,"v":0.98261},{"m":"p","i":2,"v":0.98347},{"m":"p","i":3,"v":0.98394},{"m":"p","i":4,"v":0.98394},{"m":"p","i":6,"v":0.98361},{"m":"p","i":8,"v":0.98294},{"m":"p","i":10,"v":0.98227},{"m":"p","i":12,"v":0.98161},{"m":"p","i":14,"v":0.98061},{"m":"p","i":16,"v":0.97994},{"m":"p","i":18,"v":0.97881},{"m":"p","i":20,"v":0.97747},{"m":"p","i":22,"v":0.97561},{"m":"p","i":24,"v":0.97327},{"m":"p","i":26,"v":0.97094},{"m":"p","i":28,"v":0.96961},{"m":"p","i":30,"v":0.96861},{"m":"p","i":32,"v":0.96794},{"m":"p","i":34,"v":0.96727},{"m":"p","i":36,"v":0.96641},{"m":"p","i":38,"v":0.96494},{"m":"p","i":40,"v":0.96307},{"m":"p","i":42,"v":0.96261},{"m":"p","i":44,"v":0.96261},{"m":"p","i":46,"v":0.96241},{"m":"p","i":48,"v":0.96214},{"m":"p","i":50,"v":0.96214},{"m":"p","i":52,"v":0.96261},{"m":"p","i":54,"v":0.96327},{"m":"p","i":56,"v":0.96414},{"m":"p","i":58,"v":0.96507},{"m":"p","i":60,"v":0.96594},{"m":"p","i":62,"v":0.96681},{"m":"p","i":64,"v":0.96774},{"m":"p","i":66,"v":0.96841},{"m":"p","i":67,"v":0.96881},{"m":"p","i":69,"v":0.96881},{"m":"p","i":71,"v":0.96761},{"m":"p","i":73,"v":0.96594},{"m":"p","i":75,"v":0.96294},{"m":"p","i":77,"v":0.95894},{"m":"p","i":79,"v":0.95594},{"m":"p","i":80.8,"v":0.95361},
{"m":"g","i":-0.2,"v":0.98194},{"m":"g","i":2,"v":0.98241},{"m":"g","i":4,"v":0.98294},{"m":"g","i":6,"v":0.98281},{"m":"g","i":8,"v":0.98281},{"m":"g","i":10,"v":0.98261},{"m":"g","i":12,"v":0.98214},{"m":"g","i":14,"v":0.98147},{"m":"g","i":16,"v":0.98094},{"m":"g","i":18,"v":0.98014},{"m":"g","i":20,"v":0.97927},{"m":"g","i":22,"v":0.97881},{"m":"g","i":24,"v":0.97794},{"m":"g","i":26,"v":0.97661},{"m":"g","i":28,"v":0.97494},{"m":"g","i":30,"v":0.97327},{"m":"g","i":32,"v":0.97174},{"m":"g","i":34,"v":0.97027},{"m":"g","i":36,"v":0.96907},{"m":"g","i":38,"v":0.96794},{"m":"g","i":40,"v":0.96694},{"m":"g","i":42,"v":0.96601},{"m":"g","i":44,"v":0.96561},{"m":"g","i":46,"v":0.96494},{"m":"g","i":48,"v":0.96441},{"m":"g","i":50,"v":0.96361},{"m":"g","i":52,"v":0.96307},{"m":"g","i":54,"v":0.96327},{"m":"g","i":56,"v":0.96374},{"m":"g","i":58,"v":0.96414},{"m":"g","i":60,"v":0.96494},{"m":"g","i":62,"v":0.96561},{"m":"g","i":64,"v":0.96594},{"m":"g","i":66,"v":0.96641},{"m":"g","i":67,"v":0.96661},{"m":"g","i":69,"v":0.96661},{"m":"g","i":71,"v":0.96627},{"m":"g","i":73,"v":0.96494},{"m":"g","i":75,"v":0.96261},{"m":"g","i":77,"v":0.96094},{"m":"g","i":79,"v":0.95961},{"m":"g","i":80.8,"v":0.95907},
{"m":"c","i":-0.2,"v":0.98227},{"m":"c","i":2,"v":0.98294},{"m":"c","i":4,"v":0.98327},{"m":"c","i":6,"v":0.98307},{"m":"c","i":8,"v":0.98294},{"m":"c","i":10,"v":0.98281},{"m":"c","i":12,"v":0.98241},{"m":"c","i":14,"v":0.98227},{"m":"c","i":16,"v":0.98194},{"m":"c","i":18,"v":0.98161},{"m":"c","i":20,"v":0.98107},{"m":"c","i":22,"v":0.98061},{"m":"c","i":24,"v":0.98014},{"m":"c","i":26,"v":0.97961},{"m":"c","i":28,"v":0.97894},{"m":"c","i":30,"v":0.97827},{"m":"c","i":32,"v":0.97747},{"m":"c","i":34,"v":0.97694},{"m":"c","i":36,"v":0.97627},{"m":"c","i":38,"v":0.97547},{"m":"c","i":40,"v":0.97461},{"m":"c","i":42,"v":0.97394},{"m":"c","i":44,"v":0.97307},{"m":"c","i":46,"v":0.97261},{"m":"c","i":48,"v":0.97174},{"m":"c","i":50,"v":0.97127},{"m":"c","i":52,"v":0.97081},{"m":"c","i":54,"v":0.97027},{"m":"c","i":56,"v":0.96974},{"m":"c","i":58,"v":0.96947},{"m":"c","i":60,"v":0.96907},{"m":"c","i":62,"v":0.96861},{"m":"c","i":64,"v":0.96861},{"m":"c","i":66,"v":0.96841},{"m":"c","i":67,"v":0.96814},{"m":"c","i":69,"v":0.96727},{"m":"c","i":71,"v":0.96641},{"m":"c","i":73,"v":0.96507},{"m":"c","i":75,"v":0.96394},{"m":"c","i":77,"v":0.96294},{"m":"c","i":79,"v":0.96194},{"m":"c","i":80.8,"v":0.96107}
],
"eur": [
{"i":0,"o":1.09427,"h":1.09532,"l":1.08879,"c":1.09010},{"i":1,"o":1.09010,"h":1.09453,"l":1.08801,"c":1.09323},{"i":2,"o":1.09349,"h":1.09662,"l":1.09062,"c":1.09610},{"i":3,"o":1.09599,"h":1.10001,"l":1.09349,"c":1.09662},{"i":4,"o":1.09662,"h":1.09975,"l":1.09558,"c":1.09793},{"i":5,"o":1.09829,"h":1.10001,"l":1.09610,"c":1.09714},{"i":6,"o":1.09714,"h":1.09871,"l":1.09453,"c":1.09584},{"i":7,"o":1.09584,"h":1.09871,"l":1.09532,"c":1.09740},{"i":8,"o":1.09740,"h":1.10367,"l":1.09714,"c":1.10054},{"i":9,"o":1.10054,"h":1.10628,"l":1.10027,"c":1.10445},
{"i":10,"o":1.10351,"h":1.10497,"l":1.10158,"c":1.10315},{"i":11,"o":1.10262,"h":1.10497,"l":1.09949,"c":1.10341},{"i":12,"o":1.10341,"h":1.10863,"l":1.10262,"c":1.10732},{"i":13,"o":1.10732,"h":1.11411,"l":1.10706,"c":1.11254},{"i":14,"o":1.11254,"h":1.11750,"l":1.11176,"c":1.11740},{"i":15,"o":1.11635,"h":1.11802,"l":1.11437,"c":1.11515},{"i":16,"o":1.11515,"h":1.11593,"l":1.11202,"c":1.11280},{"i":17,"o":1.11280,"h":1.11385,"l":1.11071,"c":1.11306},{"i":18,"o":1.11332,"h":1.11646,"l":1.11019,"c":1.11071},{"i":19,"o":1.11045,"h":1.11254,"l":1.10758,"c":1.10810},
{"i":20,"o":1.10821,"h":1.11124,"l":1.10769,"c":1.10993},{"i":21,"o":1.11019,"h":1.11176,"l":1.10758,"c":1.11124},{"i":22,"o":1.11150,"h":1.11552,"l":1.10821,"c":1.11531},{"i":23,"o":1.11552,"h":1.11776,"l":1.11332,"c":1.11531},{"i":24,"o":1.11515,"h":1.11933,"l":1.11437,"c":1.11922},{"i":25,"o":1.11708,"h":1.11776,"l":1.11280,"c":1.11306},{"i":26,"o":1.11296,"h":1.11385,"l":1.10654,"c":1.10784},{"i":27,"o":1.10758,"h":1.10941,"l":1.10654,"c":1.10680},{"i":28,"o":1.10680,"h":1.10941,"l":1.10523,"c":1.10549},{"i":29,"o":1.10497,"h":1.10591,"l":1.10158,"c":1.10226},
{"i":30,"o":1.10262,"h":1.10419,"l":1.10184,"c":1.10351},{"i":31,"o":1.10367,"h":1.10403,"l":1.10038,"c":1.10090},{"i":32,"o":1.10116,"h":1.10236,"l":1.09933,"c":1.10090},{"i":33,"o":1.10090,"h":1.10288,"l":1.09923,"c":1.10236},{"i":34,"o":1.10236,"h":1.10523,"l":1.10184,"c":1.10497},{"i":35,"o":1.10523,"h":1.10915,"l":1.10497,"c":1.10716},{"i":36,"o":1.10758,"h":1.10863,"l":1.10643,"c":1.10810},{"i":37,"o":1.10810,"h":1.10852,"l":1.10602,"c":1.10769},{"i":38,"o":1.10758,"h":1.10977,"l":1.10549,"c":1.10612},{"i":39,"o":1.10612,"h":1.10810,"l":1.10184,"c":1.10226},
{"i":40,"o":1.10189,"h":1.10262,"l":1.10054,"c":1.10168},{"i":41,"o":1.10158,"h":1.10278,"l":1.10001,"c":1.10221},{"i":42,"o":1.10236,"h":1.10262,"l":1.09923,"c":1.10001},{"i":43,"o":1.10027,"h":1.10142,"l":1.10001,"c":1.10106},{"i":44,"o":1.10121,"h":1.10315,"l":1.09808,"c":1.10184},{"i":45,"o":1.10288,"h":1.10915,"l":1.10054,"c":1.10800},{"i":46,"o":1.10821,"h":1.10941,"l":1.10680,"c":1.10852},{"i":47,"o":1.10837,"h":1.11176,"l":1.10680,"c":1.10810},{"i":48,"o":1.10800,"h":1.11098,"l":1.10758,"c":1.11071},{"i":49,"o":1.11071,"h":1.11098,"l":1.10419,"c":1.10628},
{"i":50,"o":1.10602,"h":1.10680,"l":1.10471,"c":1.10643},{"i":51,"o":1.10664,"h":1.10993,"l":1.10654,"c":1.10941},{"i":52,"o":1.10957,"h":1.11463,"l":1.10915,"c":1.11306},{"i":53,"o":1.11322,"h":1.11541,"l":1.11176,"c":1.11343},{"i":54,"o":1.11306,"h":1.12001,"l":1.11202,"c":1.11228},{"i":55,"o":1.11322,"h":1.11593,"l":1.11291,"c":1.11447},{"i":56,"o":1.11479,"h":1.11760,"l":1.11322,"c":1.11515},{"i":57,"o":1.11499,"h":1.11552,"l":1.11150,"c":1.11165},{"i":58,"o":1.11165,"h":1.11447,"l":1.11113,"c":1.11254},{"i":59,"o":1.11218,"h":1.11254,"l":1.10680,"c":1.10837},
{"i":60,"o":1.10852,"h":1.10967,"l":1.10732,"c":1.10889},{"i":61,"o":1.10810,"h":1.11019,"l":1.10706,"c":1.10758},{"i":62,"o":1.10915,"h":1.13133,"l":1.10810,"c":1.12115},{"i":63,"o":1.10915,"h":1.12491,"l":1.10810,"c":1.10993},{"i":64,"o":1.10993,"h":1.11865,"l":1.10941,"c":1.11760},{"i":65,"o":1.11813,"h":1.12403,"l":1.11776,"c":1.12011},{"i":66,"o":1.12011,"h":1.12418,"l":1.11854,"c":1.12126},{"i":67,"o":1.12157,"h":1.12742,"l":1.11134,"c":1.12648},{"i":68,"o":1.12142,"h":1.12387,"l":1.11411,"c":1.11750},{"i":69,"o":1.11740,"h":1.11813,"l":1.11411,"c":1.11620},
{"i":70,"o":1.11750,"h":1.12063,"l":1.11708,"c":1.11985},{"i":71,"o":1.11985,"h":1.12021,"l":1.11359,"c":1.11567},{"i":72,"o":1.11531,"h":1.11708,"l":1.11019,"c":1.11061},{"i":73,"o":1.11071,"h":1.11228,"l":1.10967,"c":1.11098},{"i":74,"o":1.11071,"h":1.11306,"l":1.10863,"c":1.11228},{"i":75,"o":1.11202,"h":1.11479,"l":1.11176,"c":1.11359},{"i":76,"o":1.11359,"h":1.11479,"l":1.11071,"c":1.11306},{"i":77,"o":1.11332,"h":1.11672,"l":1.11280,"c":1.11515},{"i":78,"o":1.11531,"h":1.11740,"l":1.11280,"c":1.11332},{"i":79,"o":1.11395,"h":1.11463,"l":1.10889,"c":1.10915},
{"i":80,"o":1.10957,"h":1.11071,"l":1.10810,"c":1.10977},{"i":81,"o":1.10957,"h":1.11071,"l":1.10837,"c":1.10852},{"i":82,"o":1.10852,"h":1.11019,"l":1.10706,"c":1.10957},{"i":83,"o":1.10941,"h":1.11098,"l":1.10393,"c":1.10602},{"i":84,"o":1.10591,"h":1.10628,"l":1.10210,"c":1.10330},{"i":85,"o":1.10351,"h":1.10393,"l":1.10142,"c":1.10210},{"i":86,"o":1.10194,"h":1.10315,"l":1.10001,"c":1.10247},{"i":87,"o":1.10236,"h":1.10341,"l":1.09923,"c":1.10106},{"i":88,"o":1.10121,"h":1.10549,"l":1.10080,"c":1.10315},{"i":89,"o":1.10236,"h":1.10977,"l":1.10184,"c":1.10925},
{"i":90,"o":1.10941,"h":1.10967,"l":1.10523,"c":1.10602},{"i":91,"o":1.10628,"h":1.10654,"l":1.10367,"c":1.10471},{"i":92,"o":1.10471,"h":1.10523,"l":1.09975,"c":1.10001},{"i":93,"o":1.10001,"h":1.10132,"l":1.09740,"c":1.09819},{"i":94,"o":1.09819,"h":1.09871,"l":1.09401,"c":1.09464},{"i":95,"o":1.09453,"h":1.09568,"l":1.09088,"c":1.09140},{"i":96,"o":1.09114,"h":1.09271,"l":1.08957,"c":1.09166},{"i":97,"o":1.09150,"h":1.09218,"l":1.08670,"c":1.08749},{"i":98,"o":1.08749,"h":1.08827,"l":1.08331,"c":1.08420},{"i":99,"o":1.08435,"h":1.08618,"l":1.08279,"c":1.08305},
{"i":100,"o":1.08430,"h":1.08488,"l":1.08357,"c":1.08383},{"i":101,"o":1.08383,"h":1.08409,"l":1.07887,"c":1.07913},{"i":102,"o":1.07939,"h":1.08148,"l":1.07835,"c":1.08054},{"i":103,"o":1.08096,"h":1.08253,"l":1.07775,"c":1.07861},{"i":104,"o":1.07861,"h":1.08618,"l":1.07845,"c":1.08472},{"i":105,"o":1.08263,"h":1.08670,"l":1.08148,"c":1.08540},{"i":106,"o":1.08409,"h":1.08905,"l":1.08383,"c":1.08801},{"i":107,"o":1.08837,"h":1.09114,"l":1.08670,"c":1.08869},{"i":108,"o":1.08816,"h":1.10069,"l":1.08775,"c":1.10017},{"i":109,"o":1.10027,"h":1.10471,"l":1.09975,"c":1.10315},
{"i":110,"o":1.10497,"h":1.11896,"l":1.10393,"c":1.11343},{"i":111,"o":1.11343,"h":1.12142,"l":1.11228,"c":1.11724},{"i":112,"o":1.11750,"h":1.11865,"l":1.10863,"c":1.11385},{"i":113,"o":1.11385,"h":1.12470,"l":1.11228,"c":1.12403},{"i":114,"o":1.12418,"h":1.13577,"l":1.12350,"c":1.12898},{"i":115,"o":1.13551,"h":1.14950,"l":1.13431,"c":1.14506},{"i":116,"o":1.14475,"h":1.14611,"l":1.12664,"c":1.12951},{"i":117,"o":1.12925,"h":1.13723,"l":1.12533,"c":1.12611},{"i":118,"o":1.12611,"h":1.13342,"l":1.10680,"c":1.11698},{"i":119,"o":1.11708,"h":1.12376,"l":1.10706,"c":1.10957},
{"i":120,"o":1.11959,"h":1.12376,"l":1.10915,"c":1.11813},{"i":121,"o":1.11802,"h":1.11907,"l":1.09766,"c":1.10069}
],
"eurMA": [
{"m":"w","i":-0.4,"v":1.09532},{"m":"w","i":1,"v":1.09297},{"m":"w","i":2,"v":1.09349},{"m":"w","i":4,"v":1.09505},{"m":"w","i":6,"v":1.09636},{"m":"w","i":8,"v":1.09766},{"m":"w","i":10,"v":1.09975},{"m":"w","i":11,"v":1.10132},{"m":"w","i":12,"v":1.10341},{"m":"w","i":13,"v":1.10706},{"m":"w","i":14,"v":1.11019},{"m":"w","i":15,"v":1.11228},{"m":"w","i":16,"v":1.11385},{"m":"w","i":17,"v":1.11411},{"m":"w","i":18,"v":1.11306},{"m":"w","i":19,"v":1.11150},{"m":"w","i":20,"v":1.11071},{"m":"w","i":21,"v":1.11071},{"m":"w","i":22,"v":1.11176},{"m":"w","i":23,"v":1.11306},{"m":"w","i":24,"v":1.11463},{"m":"w","i":25,"v":1.11437},{"m":"w","i":26,"v":1.11332},{"m":"w","i":27,"v":1.11228},{"m":"w","i":28,"v":1.10967},{"m":"w","i":29,"v":1.10654},{"m":"w","i":30,"v":1.10419},{"m":"w","i":31,"v":1.10288},{"m":"w","i":32,"v":1.10210},{"m":"w","i":33,"v":1.10262},{"m":"w","i":34,"v":1.10393},{"m":"w","i":35,"v":1.10419},{"m":"w","i":36,"v":1.10523},{"m":"w","i":37,"v":1.10602},{"m":"w","i":38,"v":1.10628},{"m":"w","i":39,"v":1.10549},{"m":"w","i":40,"v":1.10367},{"m":"w","i":41,"v":1.10262},{"m":"w","i":42,"v":1.10158},{"m":"w","i":43,"v":1.10132},{"m":"w","i":44,"v":1.10158},{"m":"w","i":45,"v":1.10315},{"m":"w","i":46,"v":1.10445},{"m":"w","i":47,"v":1.10602},{"m":"w","i":48,"v":1.10758},{"m":"w","i":49,"v":1.10810},{"m":"w","i":50,"v":1.10784},{"m":"w","i":51,"v":1.10863},{"m":"w","i":52,"v":1.10941},{"m":"w","i":53,"v":1.11019},{"m":"w","i":54,"v":1.11150},{"m":"w","i":55,"v":1.11280},{"m":"w","i":56,"v":1.11359},{"m":"w","i":57,"v":1.11306},{"m":"w","i":58,"v":1.11306},{"m":"w","i":59,"v":1.11202},{"m":"w","i":60,"v":1.11071},{"m":"w","i":61,"v":1.10993},{"m":"w","i":62,"v":1.11228},{"m":"w","i":63,"v":1.11150},{"m":"w","i":64,"v":1.11280},{"m":"w","i":65,"v":1.11541},{"m":"w","i":66,"v":1.11750},{"m":"w","i":67,"v":1.11907},{"m":"w","i":68,"v":1.12021},{"m":"w","i":69,"v":1.12011},{"m":"w","i":70,"v":1.12011},{"m":"w","i":71,"v":1.11802},{"m":"w","i":72,"v":1.11541},{"m":"w","i":73,"v":1.11463},{"m":"w","i":74,"v":1.11332},{"m":"w","i":75,"v":1.11228},{"m":"w","i":76,"v":1.11306},{"m":"w","i":77,"v":1.11385},{"m":"w","i":78,"v":1.11332},{"m":"w","i":79,"v":1.11228},{"m":"w","i":80,"v":1.11124},{"m":"w","i":81,"v":1.11019},{"m":"w","i":82,"v":1.10957},{"m":"w","i":83,"v":1.10810},{"m":"w","i":84,"v":1.10706},{"m":"w","i":85,"v":1.10549},{"m":"w","i":86,"v":1.10393},{"m":"w","i":87,"v":1.10262},{"m":"w","i":88,"v":1.10236},{"m":"w","i":89,"v":1.10393},{"m":"w","i":90,"v":1.10471},{"m":"w","i":91,"v":1.10497},{"m":"w","i":92,"v":1.10393},{"m":"w","i":93,"v":1.10184},{"m":"w","i":94,"v":1.09923},{"m":"w","i":95,"v":1.09610},{"m":"w","i":96,"v":1.09323},{"m":"w","i":97,"v":1.09036},{"m":"w","i":98,"v":1.08801},{"m":"w","i":99,"v":1.08566},{"m":"w","i":100,"v":1.08409},{"m":"w","i":101,"v":1.08253},{"m":"w","i":102,"v":1.08148},{"m":"w","i":103,"v":1.08122},{"m":"w","i":104,"v":1.08148},{"m":"w","i":105,"v":1.08174},{"m":"w","i":106,"v":1.08305},{"m":"w","i":107,"v":1.08566},{"m":"w","i":108,"v":1.08879},{"m":"w","i":109,"v":1.09297},{"m":"w","i":110,"v":1.09871},{"m":"w","i":111,"v":1.10393},{"m":"w","i":112,"v":1.10810},{"m":"w","i":113,"v":1.11489},{"m":"w","i":114,"v":1.12011},{"m":"w","i":115,"v":1.12585},{"m":"w","i":116,"v":1.12794},{"m":"w","i":117,"v":1.13045},{"m":"w","i":118,"v":1.12898},{"m":"w","i":119,"v":1.12585},{"m":"w","i":120,"v":1.12011},{"m":"w","i":121,"v":1.11437},
{"m":"y","i":-0.4,"v":1.09933},{"m":"y","i":1,"v":1.09793},{"m":"y","i":3,"v":1.09636},{"m":"y","i":5,"v":1.09532},{"m":"y","i":6,"v":1.09479},{"m":"y","i":7,"v":1.09505},{"m":"y","i":9,"v":1.09714},{"m":"y","i":11,"v":1.09975},{"m":"y","i":13,"v":1.10236},{"m":"y","i":15,"v":1.10602},{"m":"y","i":16,"v":1.10758},{"m":"y","i":18,"v":1.11019},{"m":"y","i":20,"v":1.11150},{"m":"y","i":22,"v":1.11254},{"m":"y","i":24,"v":1.11306},{"m":"y","i":26,"v":1.11228},{"m":"y","i":28,"v":1.11098},{"m":"y","i":30,"v":1.11019},{"m":"y","i":32,"v":1.10810},{"m":"y","i":34,"v":1.10523},{"m":"y","i":35,"v":1.10419},{"m":"y","i":37,"v":1.10403},{"m":"y","i":39,"v":1.10419},{"m":"y","i":41,"v":1.10419},{"m":"y","i":43,"v":1.10403},{"m":"y","i":45,"v":1.10393},{"m":"y","i":47,"v":1.10393},{"m":"y","i":48,"v":1.10419},{"m":"y","i":49,"v":1.10497},{"m":"y","i":51,"v":1.10628},{"m":"y","i":53,"v":1.10889},{"m":"y","i":55,"v":1.11071},{"m":"y","i":57,"v":1.11134},{"m":"y","i":59,"v":1.11176},{"m":"y","i":61,"v":1.11202},{"m":"y","i":62,"v":1.11254},{"m":"y","i":64,"v":1.11385},{"m":"y","i":66,"v":1.11541},{"m":"y","i":68,"v":1.11646},{"m":"y","i":70,"v":1.11802},{"m":"y","i":72,"v":1.11750},{"m":"y","i":74,"v":1.11646},{"m":"y","i":76,"v":1.11515},{"m":"y","i":78,"v":1.11385},{"m":"y","i":80,"v":1.11176},{"m":"y","i":82,"v":1.11113},{"m":"y","i":84,"v":1.10967},{"m":"y","i":86,"v":1.10810},{"m":"y","i":88,"v":1.10549},{"m":"y","i":90,"v":1.10497},{"m":"y","i":92,"v":1.10393},{"m":"y","i":94,"v":1.10184},{"m":"y","i":96,"v":1.09975},{"m":"y","i":98,"v":1.09610},{"m":"y","i":100,"v":1.09140},{"m":"y","i":102,"v":1.08722},{"m":"y","i":103,"v":1.08514},{"m":"y","i":104,"v":1.08409},{"m":"y","i":106,"v":1.08357},{"m":"y","i":107,"v":1.08357},{"m":"y","i":108,"v":1.08514},{"m":"y","i":109,"v":1.08775},{"m":"y","i":110,"v":1.09140},{"m":"y","i":111,"v":1.09505},{"m":"y","i":112,"v":1.09975},{"m":"y","i":113,"v":1.10445},{"m":"y","i":114,"v":1.10915},{"m":"y","i":115,"v":1.11332},{"m":"y","i":116,"v":1.11750},{"m":"y","i":117,"v":1.12063},{"m":"y","i":118,"v":1.12194},{"m":"y","i":119,"v":1.12246},{"m":"y","i":120,"v":1.12282},{"m":"y","i":121,"v":1.12142},
{"m":"p","i":-0.4,"v":1.10121},{"m":"p","i":3,"v":1.10027},{"m":"p","i":6,"v":1.09949},{"m":"p","i":9,"v":1.09860},{"m":"p","i":11,"v":1.09829},{"m":"p","i":13,"v":1.09923},{"m":"p","i":15,"v":1.10054},{"m":"p","i":17,"v":1.10210},{"m":"p","i":19,"v":1.10367},{"m":"p","i":21,"v":1.10549},{"m":"p","i":23,"v":1.10758},{"m":"p","i":25,"v":1.10915},{"m":"p","i":27,"v":1.11019},{"m":"p","i":29,"v":1.11061},{"m":"p","i":31,"v":1.11030},{"m":"p","i":33,"v":1.10967},{"m":"p","i":35,"v":1.10873},{"m":"p","i":37,"v":1.10810},{"m":"p","i":39,"v":1.10758},{"m":"p","i":41,"v":1.10654},{"m":"p","i":43,"v":1.10445},{"m":"p","i":45,"v":1.10419},{"m":"p","i":47,"v":1.10419},{"m":"p","i":49,"v":1.10471},{"m":"p","i":51,"v":1.10549},{"m":"p","i":53,"v":1.10643},{"m":"p","i":55,"v":1.10716},{"m":"p","i":57,"v":1.10758},{"m":"p","i":59,"v":1.10810},{"m":"p","i":61,"v":1.10873},{"m":"p","i":62,"v":1.10993},{"m":"p","i":64,"v":1.11124},{"m":"p","i":66,"v":1.11280},{"m":"p","i":68,"v":1.11385},{"m":"p","i":70,"v":1.11437},{"m":"p","i":71,"v":1.11515},{"m":"p","i":73,"v":1.11499},{"m":"p","i":75,"v":1.11489},{"m":"p","i":77,"v":1.11479},{"m":"p","i":79,"v":1.11499},{"m":"p","i":81,"v":1.11499},{"m":"p","i":83,"v":1.11463},{"m":"p","i":85,"v":1.11385},{"m":"p","i":87,"v":1.11228},{"m":"p","i":89,"v":1.10967},{"m":"p","i":91,"v":1.10758},{"m":"p","i":93,"v":1.10602},{"m":"p","i":95,"v":1.10393},{"m":"p","i":97,"v":1.10184},{"m":"p","i":99,"v":1.09871},{"m":"p","i":101,"v":1.09558},{"m":"p","i":103,"v":1.09323},{"m":"p","i":105,"v":1.09218},{"m":"p","i":107,"v":1.09140},{"m":"p","i":109,"v":1.09062},{"m":"p","i":111,"v":1.09140},{"m":"p","i":113,"v":1.09271},{"m":"p","i":115,"v":1.09558},{"m":"p","i":117,"v":1.09975},{"m":"p","i":119,"v":1.10288},{"m":"p","i":121,"v":1.10680},
{"m":"g","i":-0.4,"v":1.10330},{"m":"g","i":3,"v":1.10184},{"m":"g","i":6,"v":1.10054},{"m":"g","i":8,"v":1.09975},{"m":"g","i":10,"v":1.10027},{"m":"g","i":13,"v":1.10080},{"m":"g","i":15,"v":1.10158},{"m":"g","i":18,"v":1.10236},{"m":"g","i":21,"v":1.10288},{"m":"g","i":23,"v":1.10367},{"m":"g","i":25,"v":1.10471},{"m":"g","i":27,"v":1.10523},{"m":"g","i":29,"v":1.10591},{"m":"g","i":31,"v":1.10643},{"m":"g","i":34,"v":1.10680},{"m":"g","i":37,"v":1.10784},{"m":"g","i":39,"v":1.10837},{"m":"g","i":41,"v":1.10821},{"m":"g","i":43,"v":1.10758},{"m":"g","i":45,"v":1.10680},{"m":"g","i":47,"v":1.10654},{"m":"g","i":49,"v":1.10654},{"m":"g","i":51,"v":1.10643},{"m":"g","i":53,"v":1.10628},{"m":"g","i":55,"v":1.10628},{"m":"g","i":57,"v":1.10654},{"m":"g","i":59,"v":1.10706},{"m":"g","i":61,"v":1.10758},{"m":"g","i":62,"v":1.10784},{"m":"g","i":64,"v":1.10915},{"m":"g","i":66,"v":1.11045},{"m":"g","i":68,"v":1.11176},{"m":"g","i":70,"v":1.11228},{"m":"g","i":72,"v":1.11280},{"m":"g","i":74,"v":1.11343},{"m":"g","i":76,"v":1.11359},{"m":"g","i":78,"v":1.11385},{"m":"g","i":80,"v":1.11411},{"m":"g","i":82,"v":1.11385},{"m":"g","i":84,"v":1.11359},{"m":"g","i":86,"v":1.11280},{"m":"g","i":88,"v":1.11228},{"m":"g","i":90,"v":1.11176},{"m":"g","i":92,"v":1.11134},{"m":"g","i":94,"v":1.11019},{"m":"g","i":95,"v":1.10863},{"m":"g","i":97,"v":1.10602},{"m":"g","i":99,"v":1.10341},{"m":"g","i":101,"v":1.10080},{"m":"g","i":103,"v":1.09871},{"m":"g","i":105,"v":1.09714},{"m":"g","i":107,"v":1.09610},{"m":"g","i":109,"v":1.09568},{"m":"g","i":111,"v":1.09610},{"m":"g","i":113,"v":1.09714},{"m":"g","i":115,"v":1.09975},{"m":"g","i":117,"v":1.10054},{"m":"g","i":119,"v":1.10142},{"m":"g","i":121,"v":1.10158},
{"m":"c","i":-0.4,"v":1.11071},{"m":"c","i":3,"v":1.10941},{"m":"c","i":6,"v":1.10810},{"m":"c","i":8,"v":1.10706},{"m":"c","i":10,"v":1.10628},{"m":"c","i":12,"v":1.10591},{"m":"c","i":15,"v":1.10575},{"m":"c","i":18,"v":1.10591},{"m":"c","i":21,"v":1.10560},{"m":"c","i":24,"v":1.10523},{"m":"c","i":27,"v":1.10497},{"m":"c","i":30,"v":1.10471},{"m":"c","i":33,"v":1.10435},{"m":"c","i":36,"v":1.10419},{"m":"c","i":39,"v":1.10419},{"m":"c","i":42,"v":1.10419},{"m":"c","i":45,"v":1.10419},{"m":"c","i":48,"v":1.10445},{"m":"c","i":51,"v":1.10497},{"m":"c","i":54,"v":1.10539},{"m":"c","i":57,"v":1.10602},{"m":"c","i":60,"v":1.10680},{"m":"c","i":62,"v":1.10716},{"m":"c","i":64,"v":1.10810},{"m":"c","i":67,"v":1.10941},{"m":"c","i":70,"v":1.10993},{"m":"c","i":72,"v":1.11019},{"m":"c","i":75,"v":1.11019},{"m":"c","i":78,"v":1.11009},{"m":"c","i":81,"v":1.10993},{"m":"c","i":84,"v":1.10977},{"m":"c","i":87,"v":1.10967},{"m":"c","i":90,"v":1.10941},{"m":"c","i":93,"v":1.10925},{"m":"c","i":96,"v":1.10852},{"m":"c","i":99,"v":1.10758},{"m":"c","i":102,"v":1.10680},{"m":"c","i":105,"v":1.10602},{"m":"c","i":108,"v":1.10497},{"m":"c","i":110,"v":1.10471},{"m":"c","i":112,"v":1.10497},{"m":"c","i":114,"v":1.10575},{"m":"c","i":116,"v":1.10628},{"m":"c","i":118,"v":1.10654},{"m":"c","i":120,"v":1.10664},{"m":"c","i":121,"v":1.10706}
]
},
"layer": [
{
"layer": [
{"data": {"name": "usdGrid"}, "mark": {"type": "rule", "strokeDash": [1, 2], "color": "#7e2020", "strokeWidth": 1},
 "encoding": {"x": {"field": "a", "type": "quantitative", "scale": {"domain": [-3.5714, 259.4286], "nice": false, "zero": false}}, "x2": {"field": "b"}, "y": {"field": "p", "type": "quantitative", "scale": {"domain": [93.022, 100.832], "nice": false, "zero": false}}}},
{"data": {"name": "usd"}, "mark": {"type": "rule", "strokeWidth": 1},
 "encoding": {"x": {"field": "i", "type": "quantitative", "scale": {"domain": [-3.5714, 259.4286], "nice": false, "zero": false}}, "y": {"field": "l", "type": "quantitative", "scale": {"domain": [93.022, 100.832], "nice": false, "zero": false}}, "y2": {"field": "h"},
  "color": {"condition": {"test": "datum.c >= datum.o", "value": "#d84444"}, "value": "#56f8f8"}}},
{"data": {"name": "usd"}, "mark": {"type": "bar", "width": 5, "strokeWidth": 1},
 "encoding": {"x": {"field": "i", "type": "quantitative", "scale": {"domain": [-3.5714, 259.4286], "nice": false, "zero": false}}, "y": {"field": "o", "type": "quantitative", "scale": {"domain": [93.022, 100.832], "nice": false, "zero": false}}, "y2": {"field": "c"},
  "fill": {"condition": {"test": "datum.c >= datum.o", "value": "#000000"}, "value": "#56f8f8"},
  "stroke": {"condition": {"test": "datum.c >= datum.o", "value": "#d84444"}, "value": "#56f8f8"}}},
{"data": {"name": "usdMA"}, "mark": {"type": "line", "strokeWidth": 1, "interpolate": "monotone"},
 "encoding": {"x": {"field": "i", "type": "quantitative", "scale": {"domain": [-3.5714, 259.4286], "nice": false, "zero": false}}, "y": {"field": "v", "type": "quantitative", "scale": {"domain": [93.022, 100.832], "nice": false, "zero": false}},
  "color": {"field": "m", "type": "nominal", "scale": {"domain": ["w", "y", "p", "g", "c"], "range": ["#ffffff", "#ffff55", "#f080f0", "#40c840", "#50c8e8"]}, "legend": null}}},
{"data": {"values": [{}]}, "mark": {"type": "text", "text": "美元日K", "font": "Noto Sans CJK SC", "fontSize": 23, "color": "#ffffff", "align": "center", "baseline": "middle"},
 "encoding": {"x": {"datum": 19.5, "type": "quantitative", "scale": {"domain": [-3.5714, 259.4286], "nice": false, "zero": false}}, "y": {"datum": 100.112, "type": "quantitative", "scale": {"domain": [93.022, 100.832], "nice": false, "zero": false}}}},
{"data": {"values": [{}]}, "mark": {"type": "text", "text": "A", "font": "Liberation Serif", "fontWeight": "bold", "fontSize": 30, "color": "#ffffff", "align": "center", "baseline": "middle"},
 "encoding": {"x": {"datum": 123.93, "type": "quantitative", "scale": {"domain": [-3.5714, 259.4286], "nice": false, "zero": false}}, "y": {"datum": 100.072, "type": "quantitative", "scale": {"domain": [93.022, 100.832], "nice": false, "zero": false}}}},
{"data": {"values": [{}]}, "mark": {"type": "text", "text": "←99.91500", "font": "Liberation Sans", "fontSize": 14, "color": "#cccccc", "align": "left", "baseline": "middle"},
 "encoding": {"x": {"datum": 104, "type": "quantitative", "scale": {"domain": [-3.5714, 259.4286], "nice": false, "zero": false}}, "y": {"datum": 99.915, "type": "quantitative", "scale": {"domain": [93.022, 100.832], "nice": false, "zero": false}}}}
]
},
{
"layer": [
{"data": {"name": "chfGrid"}, "mark": {"type": "rule", "strokeDash": [1, 2], "color": "#7e2020", "strokeWidth": 1},
 "encoding": {"x": {"field": "a", "type": "quantitative", "scale": {"domain": [-11.524, 251.476], "nice": false, "zero": false}}, "x2": {"field": "b"}, "y": {"field": "p", "type": "quantitative", "scale": {"domain": [0.91074, 1.06694], "nice": false, "zero": false}}}},
{"data": {"name": "chf"}, "mark": {"type": "rule", "strokeWidth": 1},
 "encoding": {"x": {"field": "i", "type": "quantitative", "scale": {"domain": [-11.524, 251.476], "nice": false, "zero": false}}, "y": {"field": "l", "type": "quantitative", "scale": {"domain": [0.91074, 1.06694], "nice": false, "zero": false}}, "y2": {"field": "h"},
  "color": {"condition": {"test": "datum.c >= datum.o", "value": "#d84444"}, "value": "#56f8f8"}}},
{"data": {"name": "chf"}, "mark": {"type": "bar", "width": 5, "strokeWidth": 1},
 "encoding": {"x": {"field": "i", "type": "quantitative", "scale": {"domain": [-11.524, 251.476], "nice": false, "zero": false}}, "y": {"field": "o", "type": "quantitative", "scale": {"domain": [0.91074, 1.06694], "nice": false, "zero": false}}, "y2": {"field": "c"},
  "fill": {"condition": {"test": "datum.c >= datum.o", "value": "#000000"}, "value": "#56f8f8"},
  "stroke": {"condition": {"test": "datum.c >= datum.o", "value": "#d84444"}, "value": "#56f8f8"}}},
{"data": {"name": "chfMA"}, "mark": {"type": "line", "strokeWidth": 1, "interpolate": "monotone"},
 "encoding": {"x": {"field": "i", "type": "quantitative", "scale": {"domain": [-11.524, 251.476], "nice": false, "zero": false}}, "y": {"field": "v", "type": "quantitative", "scale": {"domain": [0.91074, 1.06694], "nice": false, "zero": false}},
  "color": {"field": "m", "type": "nominal", "scale": {"domain": ["w", "y", "p", "g", "c"], "range": ["#ffffff", "#ffff55", "#f080f0", "#40c840", "#50c8e8"]}, "legend": null}}},
{"data": {"values": [{}]}, "mark": {"type": "text", "text": "美瑞日K", "font": "Noto Sans CJK SC", "fontSize": 23, "color": "#ffffff", "align": "center", "baseline": "middle"},
 "encoding": {"x": {"datum": 15.4, "type": "quantitative", "scale": {"domain": [-11.524, 251.476], "nice": false, "zero": false}}, "y": {"datum": 0.94366, "type": "quantitative", "scale": {"domain": [0.91074, 1.06694], "nice": false, "zero": false}}}},
{"data": {"values": [{}]}, "mark": {"type": "text", "text": "A", "font": "Liberation Serif", "fontWeight": "bold", "fontSize": 30, "color": "#ffffff", "align": "center", "baseline": "middle"},
 "encoding": {"x": {"datum": 84.47, "type": "quantitative", "scale": {"domain": [-11.524, 251.476], "nice": false, "zero": false}}, "y": {"datum": 0.95914, "type": "quantitative", "scale": {"domain": [0.91074, 1.06694], "nice": false, "zero": false}}}},
{"data": {"values": [{}]}, "mark": {"type": "text", "text": "←0.9184", "font": "Liberation Sans", "fontSize": 14, "color": "#cccccc", "align": "left", "baseline": "middle"},
 "encoding": {"x": {"datum": 74, "type": "quantitative", "scale": {"domain": [-11.524, 251.476], "nice": false, "zero": false}}, "y": {"datum": 0.9184, "type": "quantitative", "scale": {"domain": [0.91074, 1.06694], "nice": false, "zero": false}}}}
]
},
{
"layer": [
{"data": {"name": "eurGrid"}, "mark": {"type": "rule", "strokeDash": [1, 2], "color": "#7e2020", "strokeWidth": 1},
 "encoding": {"x": {"field": "a", "type": "quantitative", "scale": {"domain": [-136.048, 126.952], "nice": false, "zero": false}}, "x2": {"field": "b"}, "y": {"field": "p", "type": "quantitative", "scale": {"domain": [1.039496, 1.161879], "nice": false, "zero": false}}}},
{"data": {"name": "eur"}, "mark": {"type": "rule", "strokeWidth": 1},
 "encoding": {"x": {"field": "i", "type": "quantitative", "scale": {"domain": [-136.048, 126.952], "nice": false, "zero": false}}, "y": {"field": "l", "type": "quantitative", "scale": {"domain": [1.039496, 1.161879], "nice": false, "zero": false}}, "y2": {"field": "h"},
  "color": {"condition": {"test": "datum.c >= datum.o", "value": "#d84444"}, "value": "#56f8f8"}}},
{"data": {"name": "eur"}, "mark": {"type": "bar", "width": 5, "strokeWidth": 1},
 "encoding": {"x": {"field": "i", "type": "quantitative", "scale": {"domain": [-136.048, 126.952], "nice": false, "zero": false}}, "y": {"field": "o", "type": "quantitative", "scale": {"domain": [1.039496, 1.161879], "nice": false, "zero": false}}, "y2": {"field": "c"},
  "fill": {"condition": {"test": "datum.c >= datum.o", "value": "#000000"}, "value": "#56f8f8"},
  "stroke": {"condition": {"test": "datum.c >= datum.o", "value": "#d84444"}, "value": "#56f8f8"}}},
{"data": {"name": "eurMA"}, "mark": {"type": "line", "strokeWidth": 1, "interpolate": "monotone"},
 "encoding": {"x": {"field": "i", "type": "quantitative", "scale": {"domain": [-136.048, 126.952], "nice": false, "zero": false}}, "y": {"field": "v", "type": "quantitative", "scale": {"domain": [1.039496, 1.161879], "nice": false, "zero": false}},
  "color": {"field": "m", "type": "nominal", "scale": {"domain": ["w", "y", "p", "g", "c"], "range": ["#ffffff", "#ffff55", "#f080f0", "#40c840", "#50c8e8"]}, "legend": null}}},
{"data": {"values": [{}]}, "mark": {"type": "text", "text": "欧元日K", "font": "Noto Sans CJK SC", "fontSize": 23, "color": "#ffffff", "align": "center", "baseline": "middle"},
 "encoding": {"x": {"datum": 5.31, "type": "quantitative", "scale": {"domain": [-136.048, 126.952], "nice": false, "zero": false}}, "y": {"datum": 1.150393, "type": "quantitative", "scale": {"domain": [1.039496, 1.161879], "nice": false, "zero": false}}}},
{"data": {"values": [{}]}, "mark": {"type": "text", "text": "A", "font": "Liberation Serif", "fontWeight": "bold", "fontSize": 30, "color": "#ffffff", "align": "center", "baseline": "middle"},
 "encoding": {"x": {"datum": 121.52, "type": "quantitative", "scale": {"domain": [-136.048, 126.952], "nice": false, "zero": false}}, "y": {"datum": 1.089484, "type": "quantitative", "scale": {"domain": [1.039496, 1.161879], "nice": false, "zero": false}}}},
{"data": {"values": [{}]}, "mark": {"type": "text", "text": "←1.14950", "font": "Liberation Sans", "fontSize": 14, "color": "#cccccc", "align": "left", "baseline": "middle", "limit": 58, "ellipsis": "\u200b"},
 "encoding": {"x": {"datum": 115, "type": "quantitative", "scale": {"domain": [-136.048, 126.952], "nice": false, "zero": false}}, "y": {"datum": 1.1495, "type": "quantitative", "scale": {"domain": [1.039496, 1.161879], "nice": false, "zero": false}}}},
{"data": {"values": [{}]}, "mark": {"type": "text", "text": "←1.07775", "font": "Liberation Sans", "fontSize": 14, "color": "#cccccc", "align": "left", "baseline": "middle"},
 "encoding": {"x": {"datum": 103, "type": "quantitative", "scale": {"domain": [-136.048, 126.952], "nice": false, "zero": false}}, "y": {"datum": 1.07775, "type": "quantitative", "scale": {"domain": [1.039496, 1.161879], "nice": false, "zero": false}}}}
]
}
],
"resolve": {"scale": {"x": "independent", "y": "independent"}}
}
